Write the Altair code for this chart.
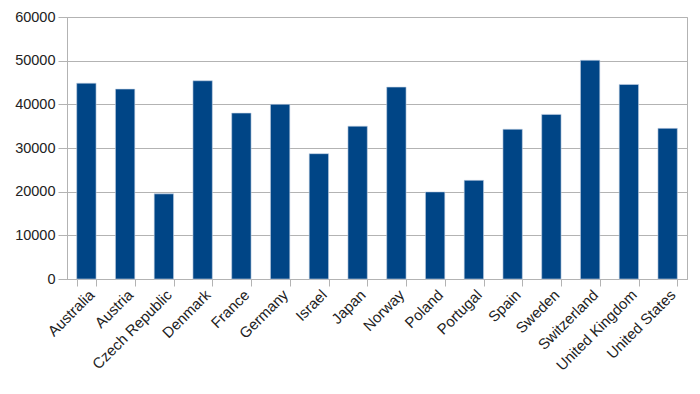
import altair as alt
import pandas as pd

countries = ["Australia", "Austria", "Czech Republic", "Denmark", "France", "Germany",
             "Israel", "Japan", "Norway", "Poland", "Portugal", "Spain", "Sweden",
             "Switzerland", "United Kingdom", "United States"]
values = [44850, 43500, 19500, 45400, 38000, 40000, 28700, 35000, 43950, 19950,
          22600, 34300, 37700, 50100, 44550, 34500]
y_ticks = [0, 10000, 20000, 30000, 40000, 50000, 60000]

df = pd.DataFrame({"country": countries, "value": values})

chart = alt.Chart(df).mark_bar(color="#004586", stroke="#c6d4e6", strokeWidth=0.6).encode(
    x=alt.X("country:N", sort=countries, title=None,
            scale=alt.Scale(paddingInner=0.5, paddingOuter=0.25),
            axis=alt.Axis(labelAngle=-45, tickBand="extent", grid=False,
                          tickSize=7, tickColor="#b3b3b3", domainColor="#b3b3b3",
                          labelFont="Liberation Sans", labelFontSize=15,
                          labelColor="#222222", labelPadding=1)),
    y=alt.Y("value:Q", title=None,
            scale=alt.Scale(domain=[0, 60000], nice=False),
            axis=alt.Axis(values=y_ticks, format="d", grid=True, gridColor="#b3b3b3",
                          tickSize=9, tickColor="#b3b3b3", domainColor="#b3b3b3",
                          labelFont="Liberation Sans", labelFontSize=14.5,
                          labelColor="#222222", labelPadding=3)),
).properties(
    width=620, height=262,
    autosize=alt.AutoSizeParams(type="none"),
    padding={"left": 59, "top": 9, "right": 5, "bottom": 110},
).configure_view(stroke="#b3b3b3")

chart.save("out.html", embed_options={"renderer": "svg", "actions": False})
